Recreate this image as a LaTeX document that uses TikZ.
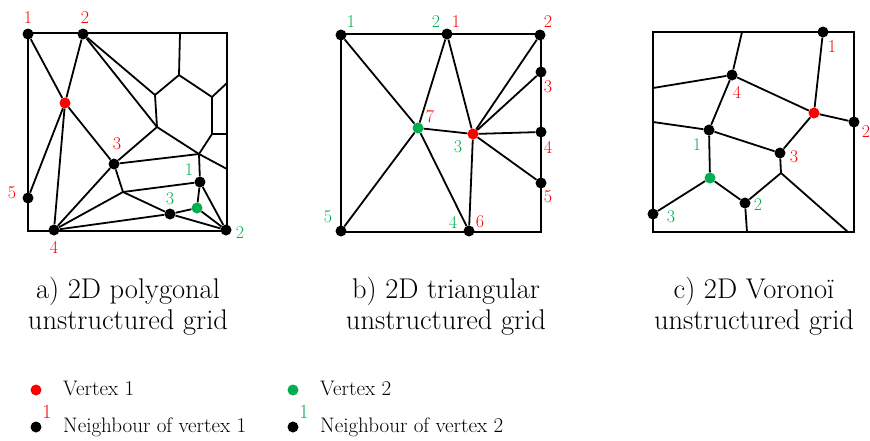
\documentclass[tikz,border=0pt]{standalone}
\usepackage{tikz}
\definecolor{vred}{HTML}{FF0000}
\definecolor{vgreen}{HTML}{00B050}
\tikzset{
  dot/.style={circle,fill=black,inner sep=0pt,minimum size=11pt},
  rdot/.style={dot,fill=vred},
  gdot/.style={dot,fill=vgreen},
  rlab/.style={font=\fontsize{18}{18}\selectfont,text=vred,inner sep=0pt},
  glab/.style={rlab,text=vgreen},
  ln/.style={line width=1.8pt},
  box/.style={line width=2pt},
  captxt/.style={font=\fontsize{28.5}{31}\selectfont,align=center,inner sep=0pt},
  leg/.style={font=\fontsize{21}{21}\selectfont,anchor=base west,inner sep=0pt},
}
\begin{document}
\begin{tikzpicture}[x=1pt,y=-1pt]
\useasboundingbox (0,0) rectangle (870,440);
% a) polygonal grid
\draw[box] (28,33) rectangle (227,231);
\node[dot] (a1) at (28,34) {};
\node[dot] (a2) at (83,34) {};
\node[rdot] (av) at (65,103) {};
\node[dot] (a3) at (114,164) {};
\node[dot] (a5) at (28,198) {};
\node[dot] (a4) at (54,230) {};
\node[gdot] (aw) at (197,208) {};
\node[dot] (ag1) at (200,182) {};
\node[dot] (ag2) at (226,230) {};
\node[dot] (ag3) at (170,214) {};
\coordinate (p1) at (180,33);
\coordinate (p2) at (179,75);
\coordinate (p3) at (155,95);
\coordinate (p4) at (212,97);
\coordinate (p5) at (227,83);
\coordinate (p6) at (212,134);
\coordinate (p7) at (227,134);
\coordinate (p8) at (199,154);
\coordinate (p9) at (157,127);
\coordinate (p10) at (227,169);
\coordinate (p11) at (123,192);
\draw[ln] (p1) -- (p2) -- (p3) -- (p9);
\draw[ln] (p2) -- (p4) -- (p5);
\draw[ln] (p4) -- (p6) -- (p7);
\draw[ln] (p6) -- (p8);
\draw[ln] (a2) -- (p3);
\draw[ln] (a2) -- (p9) -- (p8) -- (p10);
\draw[ln] (p9) -- (a3);
\draw[ln] (a3) -- (p8) -- (ag1);
\draw[ln] (a3) -- (p11) -- (ag1);
\draw[ln] (p11) -- (ag3);
\draw[ln] (p11) -- (a4);
\draw[ln] (a3) -- (a4);
\draw[ln] (a4) -- (ag3) -- (aw) -- (ag2);
\draw[ln] (ag3) -- (ag2);
\draw[ln] (ag1) -- (aw);
\draw[ln] (ag1) -- (ag2);
\foreach \n in {a1,a2,a3,a4,a5}
  \draw[ln] (av) -- (\n);
\node[rlab] (la1) at (28,18) {1};
\node[rlab] (la2) at (85,18) {2};
\node[rlab] (la3) at (117,144) {3};
\node[rlab] (la5) at (12,193) {5};
\node[rlab] (la4) at (54,247) {4};
\node[glab] (lag1) at (189,170) {1};
\node[glab] (lag3) at (170,199) {3};
\node[glab] (lag2) at (240,233) {2};
\node[captxt] (capa) at (128,306) {a) 2D polygonal\\unstructured grid};
% b) triangular grid
\draw[box] (341,34) rectangle (541,232);
\node[dot] (bg1) at (341,35) {};
\node[dot] (bt) at (447,34) {};
\node[dot] (br2) at (540,35) {};
\node[dot] (br3) at (541,72) {};
\node[dot] (br4) at (541,132) {};
\node[dot] (br5) at (541,183) {};
\node[gdot] (bw) at (418,128) {};
\node[rdot] (bv) at (473,134) {};
\node[dot] (bb) at (469,231) {};
\node[dot] (bg5) at (341,231) {};
\draw[ln] (bg1) -- (bw);
\draw[ln] (bt) -- (bw);
\draw[ln] (bt) -- (bv);
\foreach \n in {br2,br3,br4,br5,bb}
  \draw[ln] (bv) -- (\n);
\draw[ln] (bw) -- (bv);
\draw[ln] (bw) -- (bg5);
\draw[ln] (bw) -- (bb);
\node[glab] (lbg1) at (351,22) {1};
\node[glab] (lbg2) at (436,22) {2};
\node[rlab] (lbr1) at (456,22) {1};
\node[rlab] (lbr2) at (548,22) {2};
\node[rlab] (lbr3) at (548,87) {3};
\node[rlab] (lbr4) at (548,147) {4};
\node[rlab] (lbr5) at (548,197) {5};
\node[rlab] (lbr7) at (430,117) {7};
\node[glab] (lbg3) at (458,147) {3};
\node[glab] (lbg4) at (453,222) {4};
\node[rlab] (lbr6) at (480,222) {6};
\node[glab] (lbg5) at (328,217) {5};
\node[captxt] (capb) at (446,306) {b) 2D triangular\\unstructured grid};
% c) Voronoi grid
\draw[box] (653,32) rectangle (854,232);
\node[dot] (c1) at (823,32) {};
\node[dot] (c4) at (732,75) {};
\node[rdot] (cv) at (814,113) {};
\node[dot] (c2) at (854,122) {};
\node[dot] (cg1) at (709,130) {};
\node[dot] (c3) at (780,153) {};
\node[gdot] (cw) at (710,178) {};
\node[dot] (cg2) at (745,203) {};
\node[dot] (cg3) at (653,214) {};
\coordinate (q1) at (742,32);
\coordinate (q2) at (653,88);
\coordinate (q3) at (653,122);
\coordinate (q4) at (781,173);
\coordinate (q5) at (848,232);
\coordinate (q6) at (747,232);
\draw[ln] (q1) -- (c4);
\draw[ln] (q2) -- (c4);
\draw[ln] (c4) -- (cv);
\draw[ln] (c4) -- (cg1);
\draw[ln] (q3) -- (cg1);
\draw[ln] (cg1) -- (c3);
\draw[ln] (cg1) -- (cw);
\foreach \n in {c1,c2,c3}
  \draw[ln] (cv) -- (\n);
\draw[ln] (c3) -- (q4) -- (cg2);
\draw[ln] (q4) -- (q5);
\draw[ln] (cg2) -- (q6);
\draw[ln] (cw) -- (cg2);
\draw[ln] (cw) -- (cg3);
\node[rlab] (lc1) at (832,47) {1};
\node[rlab] (lc4) at (737,92) {4};
\node[rlab] (lc2) at (866,132) {2};
\node[glab] (lcg1) at (697,145) {1};
\node[rlab] (lc3) at (794,157) {3};
\node[glab] (lcg2) at (758,205) {2};
\node[glab] (lcg3) at (671,217) {3};
\node[captxt] (capc) at (754,306) {c) 2D Voronoï\\unstructured grid};
% legend
\node[rdot] (kv1) at (36,390) {};
\node[leg] (kt1) at (63,395) {Vertex 1};
\node[dot] (kn1) at (36,427) {};
\node[rlab,font=\fontsize{20}{20}\selectfont] (kl1) at (47,412) {1};
\node[leg] (kt2) at (63,432) {Neighbour of vertex 1};
\node[gdot] (kv2) at (293,390) {};
\node[leg] (kt3) at (320,395) {Vertex 2};
\node[dot] (kn2) at (293,427) {};
\node[glab,font=\fontsize{20}{20}\selectfont] (kl2) at (304,412) {1};
\node[leg] (kt4) at (320,432) {Neighbour of vertex 2};
\end{tikzpicture}
\end{document}
